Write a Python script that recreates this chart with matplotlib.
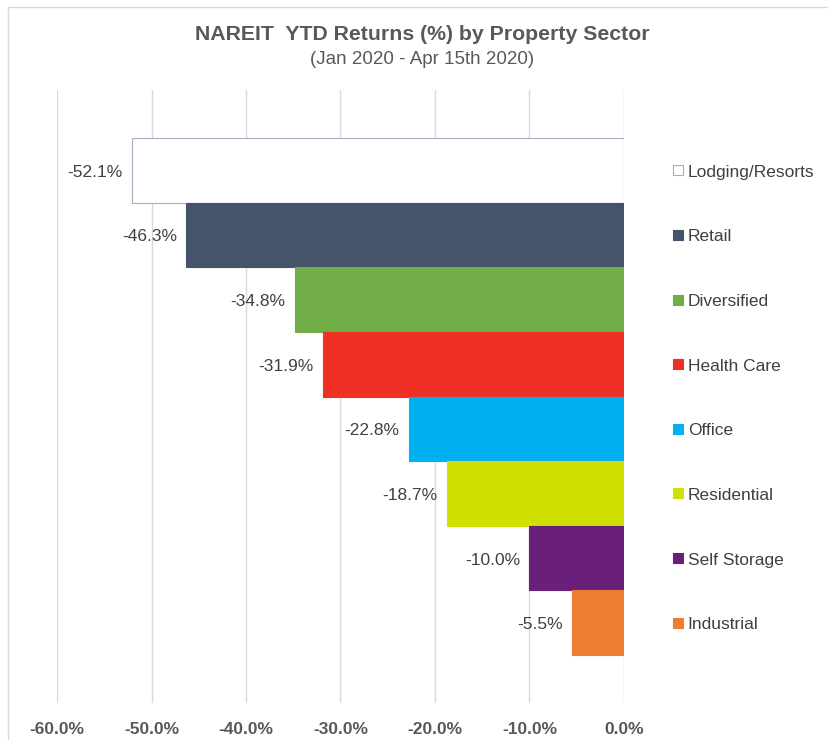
import matplotlib.pyplot as plt
from matplotlib.patches import Rectangle

plt.rcParams['font.family'] = ['Liberation Sans', 'DejaVu Sans']

sectors = ["Lodging/Resorts", "Retail", "Diversified", "Health Care",
           "Office", "Residential", "Self Storage", "Industrial"]
returns = [-52.1, -46.3, -34.8, -31.9, -22.8, -18.7, -10.0, -5.5]
colors = ["#ffffff", "#44546a", "#70ad47", "#ee3124",
          "#00b0f0", "#d0e000", "#6a1f7a", "#ed7d31"]
xticks = [-60, -50, -40, -30, -20, -10, 0]

fig = plt.figure(figsize=(8.29, 7.40), dpi=100)
# outer chart border
fig.patches.append(Rectangle((8 / 829, -0.01), 1.0, 1 - 7 / 740 + 0.01,
                             transform=fig.transFigure, fill=False,
                             edgecolor="#d9d9d9", linewidth=1))

ax = fig.add_axes([57 / 829, 37 / 740, (624 - 57) / 829, (703 - 90) / 740])

for y, (v, c) in enumerate(zip(returns, colors)):
    edge = "#a6aec0" if c == "#ffffff" else c
    ax.barh(y, v, height=1.0, color=c, edgecolor=edge, linewidth=0.8, zorder=3)
    ax.text(v - 1.0, y + 0.03, f"{v:.1f}%", ha="right", va="center",
            fontsize=12.5, color="#404040", zorder=4)
    # legend entry beside each bar
    ax.scatter([5.7], [y], marker="s", s=42, color=c, edgecolors=edge,
               linewidths=0.8, clip_on=False, zorder=4)
    ax.text(6.75, y + 0.03, sectors[y], ha="left", va="center",
            fontsize=12.5, color="#404040", clip_on=False)

ax.set_xlim(-60, 0)
ax.set_ylim(8.24, -1.24)
ax.set_xticks(xticks)
ax.set_xticklabels([f"{t:.1f}%" for t in xticks], fontweight="bold",
                   fontsize=12.5, color="#595959")
ax.tick_params(axis="x", length=0, pad=14)
ax.set_yticks([])
for s in ax.spines.values():
    s.set_visible(False)
ax.grid(axis="x", color="#d9d9d9", linewidth=1, zorder=0)

fig.text(422 / 829, 1 - 35 / 740, "NAREIT  YTD Returns (%) by Property Sector",
         ha="center", va="center", fontsize=15.3, fontweight="bold", color="#595959")
fig.text(422 / 829, 1 - 59 / 740, "(Jan 2020 - Apr 15th 2020)",
         ha="center", va="center", fontsize=13.5, color="#595959")

fig.savefig("out.png", dpi=100)
